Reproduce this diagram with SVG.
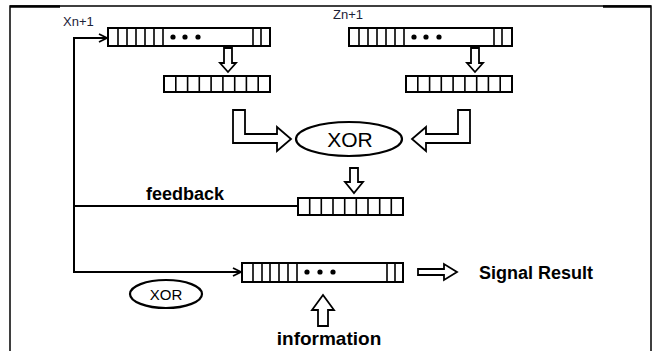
<svg xmlns="http://www.w3.org/2000/svg" width="654" height="351" viewBox="0 0 654 351">
<defs>
<style>
.reg{fill:#fff;stroke:#000;stroke-width:2}
.div{stroke:#000;stroke-width:1.6}
.dot{fill:#000}
.line{fill:none;stroke:#000;stroke-width:2}
.blk{fill:#fff;stroke:#000;stroke-width:1.8;stroke-linejoin:miter}
.ell{fill:#fff;stroke:#000;stroke-width:2.2}
.lbl{font-family:"Liberation Sans",Arial,sans-serif;fill:#1c2238;font-size:13px}
.xor{font-family:"Liberation Sans",Arial,sans-serif;fill:#000}
.bold{font-family:"Liberation Sans",Arial,sans-serif;font-weight:bold;fill:#000}
</style>
<marker id="ah" viewBox="0 0 10 10" refX="9" refY="5" markerWidth="10" markerHeight="10" markerUnits="userSpaceOnUse" orient="auto">
<path d="M1,1 L9,5 L1,9" fill="none" stroke="#000" stroke-width="1.8"/>
</marker>
</defs>
<rect width="654" height="351" fill="#fff"/>
<g id="frame">
<path d="M10,351 V6 H651 V351" fill="none" stroke="#000" stroke-width="1.5"/>
<path d="M10,6.5 H60 M603,6.5 H651" stroke="#000" stroke-width="2.5"/>
</g>

<g id="connectors">
<path class="line" d="M74,270 V38 H107" marker-end="url(#ah)"/>
<path class="line" d="M74,206 H298"/>
<path class="line" d="M74,270 V272 H241" marker-end="url(#ah)"/>
<polygon class="blk" points="224,48 232,48 232,63 236,63 228,72 220,63 224,63"/>
<polygon class="blk" points="471,48 479,48 479,63 483,63 475,72 467,63 471,63"/>
<polygon class="blk" points="233,110 245,110 245,134 277,134 277,127 291,139 277,151 277,143 233,143"/>
<polygon class="blk" points="470,110 458,110 458,134 426,134 426,127 412,139 426,151 426,143 470,143"/>
<polygon class="blk" points="350,168 358,168 358,182 363,182 354,193 345,182 350,182"/>
<polygon class="blk" points="318,326 328,326 328,310 334,310 323,295 312,310 318,310"/>
<polygon class="blk" points="418,269 444,269 444,264 457,272 444,280 444,275 418,275"/>
</g>

<g id="label-xn1"><text class="lbl" x="63" y="26">Xn+1</text></g>
<g id="label-zn1"><text class="lbl" x="333" y="19">Zn+1</text></g>

<g id="reg-x">
<rect class="reg" x="108" y="28" width="162" height="18"/>
<path class="div" d="M118,28V46M127,28V46M136,28V46M145,28V46M154,28V46M163,28V46M253,28V46M261,28V46"/>
<circle class="dot" cx="173" cy="37" r="2.6"/><circle class="dot" cx="185" cy="37" r="2.6"/><circle class="dot" cx="198" cy="37" r="2.6"/>
</g>

<g id="reg-z">
<rect class="reg" x="349" y="28" width="163" height="18"/>
<path class="div" d="M359,28V46M368,28V46M377,28V46M386,28V46M395,28V46M404,28V46M494,28V46M502,28V46"/>
<circle class="dot" cx="414" cy="37" r="2.6"/><circle class="dot" cx="426" cy="37" r="2.6"/><circle class="dot" cx="439" cy="37" r="2.6"/>
</g>

<g id="reg-x2">
<rect class="reg" x="164" y="76" width="106" height="16"/>
<path class="div" d="M175.8,76V92M187.6,76V92M199.3,76V92M211.1,76V92M222.9,76V92M234.7,76V92M246.4,76V92M258.2,76V92"/>
</g>

<g id="reg-z2">
<rect class="reg" x="406" y="76" width="106" height="16"/>
<path class="div" d="M417.8,76V92M429.6,76V92M441.3,76V92M453.1,76V92M464.9,76V92M476.7,76V92M488.4,76V92M500.2,76V92"/>
</g>

<g id="xor-main">
<ellipse class="ell" cx="349" cy="139" rx="53" ry="17"/>
<text class="xor" x="350" y="147" font-size="21" text-anchor="middle">XOR</text>
</g>

<g id="reg-feedback">
<rect class="reg" x="298" y="198" width="105" height="17"/>
<path class="div" d="M309.7,198V215M321.3,198V215M333,198V215M344.7,198V215M356.3,198V215M368,198V215M379.7,198V215M391.3,198V215"/>
</g>
<g id="label-feedback"><text class="bold" x="146" y="200" font-size="18">feedback</text></g>

<g id="reg-out">
<rect class="reg" x="242" y="263" width="161" height="19"/>
<path class="div" d="M253,263V282M262,263V282M270,263V282M279,263V282M288,263V282M297,263V282M387,263V282M395,263V282"/>
<circle class="dot" cx="307" cy="272" r="2.6"/><circle class="dot" cx="320" cy="272" r="2.6"/><circle class="dot" cx="333" cy="272" r="2.6"/>
</g>

<g id="xor-small">
<ellipse class="ell" cx="166" cy="294" rx="36" ry="14"/>
<text class="xor" x="166" y="300" font-size="15" text-anchor="middle">XOR</text>
</g>

<g id="label-signal"><text class="bold" x="479" y="279" font-size="18">Signal Result</text></g>
<g id="label-information"><text class="bold" x="329" y="345" font-size="19" text-anchor="middle">information</text></g>
</svg>
